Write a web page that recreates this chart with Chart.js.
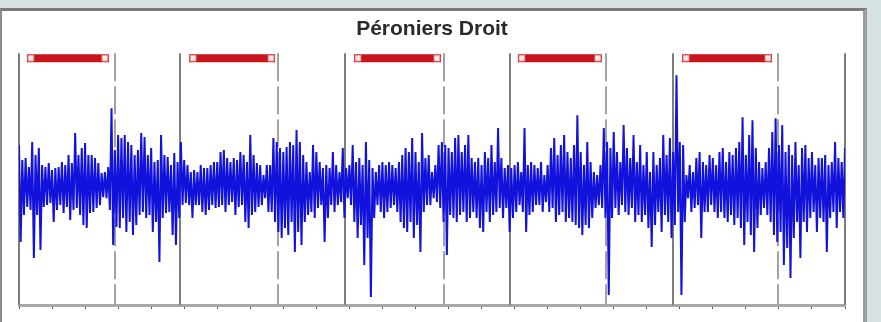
<!DOCTYPE html>
<html>
<head>
<meta charset="utf-8">
<script src="https://cdn.jsdelivr.net/npm/chart.js@4"></script>
<style>
  body { margin: 0; background: #d5e1e3; }
  #panel {
    position: absolute; left: 0; top: 8px; width: 867px; height: 320px;
    box-sizing: border-box; background: #fff;
    border-top: 3px solid #7a7a7a; border-left: 2px solid #8c8c8c; border-right: 4px solid #9c9c9c;
  }
  #wrap { position: absolute; left: 0; top: 0; width: 881px; height: 322px; }
</style>
</head>
<body>
<div id="panel"></div>
<div id="wrap"><canvas id="emgChart" width="881" height="322"></canvas></div>
<script>
// ================= DATA =================
const chartTitle = "Péroniers Droit";

// sample spacing of the envelope readings (s)
const SAMPLE_STEP = 0.1;

// upper extremes of the raw EMG, one per sample
const peakValues = [
  40, 25, 27, 18, 43, 30, 37, 20, 18, 22, 15, 17, 18, 23, 20, 30, 22, 52, 30, 37,
  42, 30, 30, 27, 22, 12, 13, 18, 77, 35, 50, 47, 50, 43, 40, 30, 35, 52, 48, 30,
  37, 23, 25, 50, 30, 28, 20, 32, 23, 43, 25, 20, 13, 15, 13, 20, 17, 17, 20, 23,
  23, 33, 35, 27, 23, 27, 25, 33, 30, 23, 50, 30, 22, 20, 10, 20, 20, 47, 43, 37,
  33, 38, 43, 40, 55, 43, 30, 23, 13, 40, 33, 23, 17, 20, 17, 33, 20, 13, 37, 17,
  20, 40, 23, 27, 20, 43, 25, 17, 13, 20, 23, 20, 23, 20, 17, 23, 30, 37, 33, 47,
  33, 23, 52, 27, 30, 13, 20, 40, 43, 40, 37, 33, 47, 50, 33, 40, 50, 27, 23, 27,
  20, 33, 27, 40, 23, 57, 27, 17, 20, 17, 20, 23, 13, 57, 20, 23, 20, 17, 23, 10,
  20, 37, 47, 30, 40, 50, 33, 27, 40, 70, 33, 20, 43, 23, 13, 10, 20, 57, 43, 37,
  53, 33, 23, 60, 37, 27, 50, 23, 40, 20, 33, 13, 33, 20, 27, 50, 30, 47, 33, 110,
  43, 40, 10, 20, 13, 27, 33, 23, 20, 30, 27, 20, 33, 37, 23, 33, 30, 37, 43, 68,
  30, 50, 65, 37, 23, 17, 23, 37, 53, 67, 40, 60, 33, 40, 30, 43, 20, 37, 40, 27,
  33, 20, 27, 27, 30, 20, 23, 43, 27, 23, 37
];

// lower extremes of the raw EMG, one per sample
const troughValues = [
  -57, -30, -22, -25, -73, -30, -65, -22, -20, -18, -37, -25, -20, -28, -22, -35, -25, -23, -30, -40,
  -43, -28, -27, -23, -20, -12, -13, -25, -60, -42, -43, -33, -47, -37, -50, -40, -30, -27, -33, -30,
  -47, -37, -77, -33, -28, -27, -50, -60, -33, -20, -18, -20, -33, -20, -20, -27, -30, -25, -20, -23,
  -22, -20, -27, -20, -17, -30, -22, -20, -37, -43, -30, -27, -22, -20, -13, -27, -27, -37, -47, -53,
  -43, -50, -37, -67, -47, -60, -37, -30, -27, -33, -23, -20, -57, -33, -20, -27, -20, -17, -33, -13,
  -20, -37, -53, -40, -80, -53, -112, -33, -20, -27, -33, -27, -23, -20, -27, -37, -43, -47, -37, -53,
  -40, -67, -27, -20, -20, -13, -17, -23, -37, -70, -30, -33, -37, -30, -27, -37, -33, -27, -33, -43,
  -47, -27, -37, -30, -27, -23, -33, -23, -47, -33, -27, -20, -27, -47, -30, -27, -20, -20, -27, -17,
  -27, -23, -37, -30, -27, -37, -33, -37, -40, -43, -50, -40, -43, -33, -23, -20, -23, -33, -110, -33,
  -23, -30, -20, -27, -30, -23, -37, -30, -37, -30, -43, -62, -40, -27, -47, -30, -37, -53, -40, -27,
  -110, -37, -13, -27, -23, -20, -53, -27, -27, -20, -27, -33, -27, -33, -37, -30, -40, -33, -43, -60,
  -37, -50, -67, -43, -30, -23, -30, -37, -50, -57, -47, -80, -63, -93, -53, -37, -73, -37, -47, -33,
  -27, -47, -33, -37, -67, -33, -27, -43, -27, -33, -50
];

// stimulation periods (red bars)
const stimStarts = [0.36, 5.27, 10.26, 15.22, 20.19];
const stimEnds = [2.6, 7.63, 12.65, 17.52, 22.67];
const STIM_LEVEL = 127;

// event markers
const onsetTimes = [0, 4.87, 9.87, 14.86, 19.79, 25];
const offsetTimes = [2.9, 7.84, 12.86, 17.77, 22.97];
const MARKER_TOP = 132;

// ================= BUILD POINTS =================
const signalPoints = [];
peakValues.forEach((hi, i) => {
  signalPoints.push({ x: i * SAMPLE_STEP, y: hi });
  signalPoints.push({ x: i * SAMPLE_STEP + SAMPLE_STEP / 2, y: troughValues[i] });
});

const stimPoints = [];
stimStarts.forEach((start, i) => {
  stimPoints.push({ x: start, y: STIM_LEVEL });
  stimPoints.push({ x: stimEnds[i], y: STIM_LEVEL });
  stimPoints.push({ x: stimEnds[i] + 0.01, y: null });
});

// ================= MARKER LINES =================
const markerLines = {
  id: "markerLines",
  beforeDatasetsDraw(chart) {
    const { ctx, scales: { x, y } } = chart;
    const top = y.getPixelForValue(MARKER_TOP);
    const bottom = y.getPixelForValue(y.min);
    ctx.save();
    ctx.lineWidth = 2;
    ctx.strokeStyle = "#7d7d7d";
    onsetTimes.forEach(t => {
      const px = Math.round(x.getPixelForValue(t));
      ctx.beginPath();
      ctx.moveTo(px, top);
      ctx.lineTo(px, bottom);
      ctx.stroke();
    });
    ctx.strokeStyle = "#a2a2a2";
    ctx.setLineDash([28, 5]);
    offsetTimes.forEach(t => {
      const px = Math.round(x.getPixelForValue(t));
      ctx.beginPath();
      ctx.moveTo(px, top);
      ctx.lineTo(px, bottom);
      ctx.stroke();
    });
    ctx.restore();
  }
};

// ================= CHART =================
new Chart(document.getElementById("emgChart"), {
  type: "line",
  data: {
    datasets: [
      {
        data: stimPoints,
        borderColor: "#c8141c",
        borderWidth: 8,
        borderCapStyle: "square",
        spanGaps: false,
        pointStyle: "rect",
        pointRadius: 4,
        pointBackgroundColor: "#fbe6e6",
        pointBorderColor: "#e8a0a0",
        pointBorderWidth: 1
      },
      {
        data: signalPoints,
        borderColor: "#1212dc",
        borderWidth: 2,
        pointRadius: 0,
        tension: 0
      }
    ]
  },
  plugins: [markerLines],
  options: {
    responsive: false,
    animation: false,
    events: [],
    layout: { padding: { left: 19, right: 36, top: 0, bottom: 13 } },
    plugins: {
      legend: { display: false },
      tooltip: { enabled: false },
      title: {
        display: true,
        text: chartTitle,
        fullSize: false,
        color: "#2a2a2a",
        font: { family: "'Liberation Sans', Arial, sans-serif", size: 21, weight: "bold" },
        padding: { top: 17, bottom: 3 }
      }
    },
    scales: {
      x: {
        type: "linear",
        min: 0,
        max: 25,
        ticks: { display: false, stepSize: 1 },
        grid: { drawOnChartArea: false, drawTicks: true, tickLength: 4, tickColor: "#555" },
        border: { display: true, color: "#a8a8a8", width: 3 }
      },
      y: {
        display: false,
        min: -120,
        max: 140
      }
    }
  }
});
</script>
</body>
</html>
